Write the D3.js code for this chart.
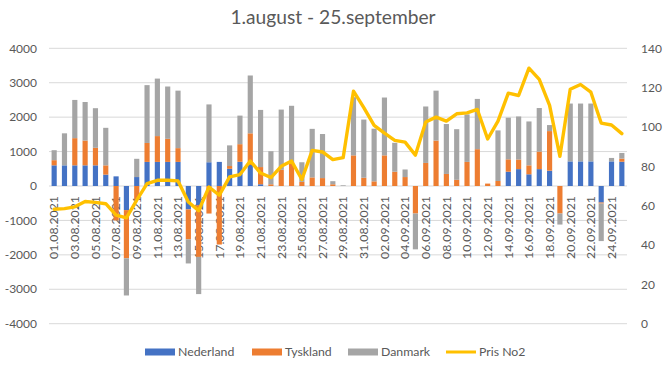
<!DOCTYPE html>
<html><head><meta charset="utf-8">
<script src="https://cdn.jsdelivr.net/npm/d3@7"></script>
<style>body{margin:0;background:#fff}svg{display:block}</style>
</head><body><svg id="c" width="665" height="367"></svg>
<script>
const categories=["01.08.2021","02.08.2021","03.08.2021","04.08.2021","05.08.2021","06.08.2021","07.08.2021","08.08.2021","09.08.2021","10.08.2021","11.08.2021","12.08.2021","13.08.2021","14.08.2021","15.08.2021","16.08.2021","17.08.2021","18.08.2021","19.08.2021","20.08.2021","21.08.2021","22.08.2021","23.08.2021","24.08.2021","25.08.2021","26.08.2021","27.08.2021","28.08.2021","29.08.2021","30.08.2021","31.08.2021","01.09.2021","02.09.2021","03.09.2021","04.09.2021","05.09.2021","06.09.2021","07.09.2021","08.09.2021","09.09.2021","10.09.2021","11.09.2021","12.09.2021","13.09.2021","14.09.2021","15.09.2021","16.09.2021","17.09.2021","18.09.2021","19.09.2021","20.09.2021","21.09.2021","22.09.2021","23.09.2021","24.09.2021","25.09.2021"];
const nederland=[600,600,600,600,600,330,280,-700,260,700,700,700,700,-680,-560,690,700,500,705,610,50,0,0,0,0,0,0,0,0,0,0,0,0,0,0,0,0,0,0,0,0,0,0,0,415,490,340,490,445,0,715,715,715,-480,715,705];
const tyskland=[150,0,790,720,510,270,-1000,-1400,-400,550,750,670,400,-870,-1500,-800,-1700,80,510,920,500,50,470,650,120,250,230,50,0,890,240,135,890,415,260,-800,670,1320,350,180,700,1070,70,145,360,280,260,510,1150,-800,0,0,0,-30,0,90];
const danmark=[290,930,1110,1120,1150,1090,0,-1080,530,1680,1670,1520,1670,-700,-1080,1680,0,600,830,1680,1660,960,1750,1680,570,1410,1280,90,20,1690,1690,1530,1680,840,220,-1040,1640,1450,1450,1470,1380,1460,0,1470,1210,1250,1275,1265,175,-320,1680,1680,1680,-1090,100,165];
const prisNo2=[58.2,58.5,59.4,62.1,61.7,61,55.2,53.8,62.8,71.2,72.9,72.9,72.6,61.9,57.5,69.5,65.3,74.6,75.8,82.7,76.6,74.3,80,82.7,73.3,88.1,87.3,83.4,84.4,118.2,109.8,100.8,96.9,93.2,92.3,85.7,102.5,105,103,106.7,107.2,108.9,93.9,103,117.2,116,129.9,124.2,111,85.1,119.2,121.6,117.7,102,101,96.6];
const leftTicks=[-4000,-3000,-2000,-1000,0,1000,2000,3000,4000];
const rightTicks=[0,20,40,60,80,100,120,140];
const seriesNames=["Nederland","Tyskland","Danmark","Pris No2"];
const seriesColors=["#4472C4","#ED7D31","#A5A5A5","#FFC000"];
const chartTitle="1.august - 25.september";

const svg=d3.select("#c");
const font="Lato, 'Open Sans', sans-serif";
const L=49,R=627,T=48.3,B=323.7;
const x=d3.scaleBand().domain(categories).range([L,R]).paddingInner(0.5).paddingOuter(0.25);
const yL=d3.scaleLinear().domain([-4000,4000]).range([B,T]);
const yR=d3.scaleLinear().domain([0,140]).range([B,T]);

svg.append("text").attr("x",333).attr("y",24).attr("text-anchor","middle")
  .attr("font-family",font).attr("font-size",19.2).attr("fill","#595959").text(chartTitle);

// gridlines
svg.append("g").selectAll("line").data(leftTicks).join("line")
  .attr("x1",L).attr("x2",R).attr("y1",d=>yL(d)).attr("y2",d=>yL(d))
  .attr("stroke","#d9d9d9").attr("stroke-width",1);

// left axis labels
svg.append("g").selectAll("text").data(leftTicks).join("text")
  .attr("x",37).attr("y",d=>yL(d)).attr("dy","0.35em").attr("text-anchor","end")
  .attr("font-family",font).attr("font-size",12).attr("fill","#595959").text(d=>d);
// right axis labels
svg.append("g").selectAll("text").data(rightTicks).join("text")
  .attr("x",641).attr("y",d=>yR(d)).attr("dy","0.35em").attr("text-anchor","start")
  .attr("font-family",font).attr("font-size",12).attr("fill","#595959").text(d=>d);

// category labels
svg.append("g").selectAll("text").data(categories.filter((d,i)=>i%2===0)).join("text")
  .attr("transform",d=>`translate(${x(d)+x.bandwidth()/2},${yL(0)+10}) rotate(-90)`)
  .attr("dy","0.35em").attr("text-anchor","end")
  .attr("font-family",font).attr("font-size",12.3).attr("fill","#595959").text(d=>d);

// stacked bars
const rows=categories.map((c,i)=>({cat:c,Nederland:nederland[i],Tyskland:tyskland[i],Danmark:danmark[i]}));
const stack=d3.stack().keys(seriesNames.slice(0,3)).offset(d3.stackOffsetDiverging)(rows);
svg.append("g").selectAll("g").data(stack).join("g").attr("fill",(d,i)=>seriesColors[i])
  .selectAll("rect").data(d=>d).join("rect")
  .attr("x",d=>x(d.data.cat)).attr("width",x.bandwidth())
  .attr("y",d=>yL(Math.max(d[0],d[1]))).attr("height",d=>Math.abs(yL(d[0])-yL(d[1])));

// line
const line=d3.line().x((d,i)=>x(categories[i])+x.bandwidth()/2).y(d=>yR(d));
svg.append("path").datum(prisNo2).attr("d",line).attr("fill","none")
  .attr("stroke",seriesColors[3]).attr("stroke-width",3.4).attr("stroke-linejoin","round").attr("stroke-linecap","round");

// legend
const legX=[145,252,348,446];
const lg=svg.append("g").selectAll("g").data(seriesNames).join("g").attr("transform",(d,i)=>`translate(${legX[i]},352)`);
lg.each(function(d,i){
  const g=d3.select(this);
  if(i<3) g.append("rect").attr("x",0).attr("y",-3.5).attr("width",30).attr("height",7).attr("fill",seriesColors[i]);
  else g.append("line").attr("x1",0).attr("x2",30).attr("y1",0).attr("y2",0).attr("stroke",seriesColors[i]).attr("stroke-width",3);
  g.append("text").attr("x",33).attr("y",0).attr("dy","0.35em").attr("font-family",font).attr("font-size",12.3).attr("fill","#595959").text(d);
});
</script>
</body></html>
